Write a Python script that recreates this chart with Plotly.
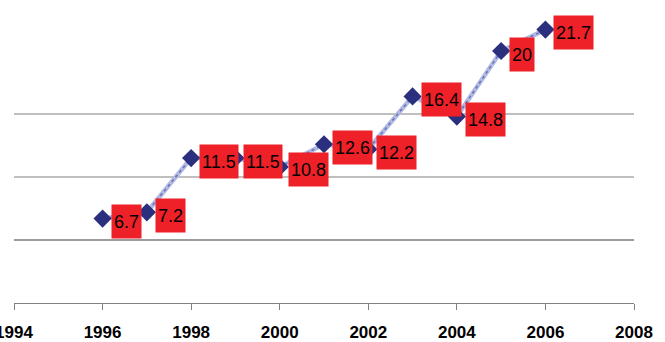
import plotly.graph_objects as go

years = [1996, 1997, 1998, 1999, 2000, 2001, 2002, 2003, 2004, 2005, 2006]
values = [6.7, 7.2, 11.5, 11.5, 10.8, 12.6, 12.2, 16.4, 14.8, 20, 21.7]
labels = ["6.7", "7.2", "11.5", "11.5", "10.8", "12.6", "12.2", "16.4", "14.8", "20", "21.7"]
x_ticks = [1994, 1996, 1998, 2000, 2002, 2004, 2006, 2008]
grid_levels = [5, 10, 15]

fig = go.Figure()

# soft textured connecting line: pale wide stroke with a dotted darker core
fig.add_trace(go.Scatter(x=years, y=values, mode="lines",
                         line=dict(color="#b3bae2", width=4.5),
                         hoverinfo="skip", showlegend=False))
fig.add_trace(go.Scatter(x=years, y=values, mode="lines",
                         line=dict(color="#6670bb", width=1.5, dash="dot"),
                         hoverinfo="skip", showlegend=False))
fig.add_trace(go.Scatter(x=years, y=values, mode="markers",
                         marker=dict(symbol="diamond", size=14, color="#2a2f7e"),
                         showlegend=False))

for g in grid_levels:
    fig.add_shape(type="line", xref="x", yref="y", x0=1994, x1=2008, y0=g, y1=g,
                  line=dict(color="#3a3a3a" if g == 5 else "#808080", width=1.2),
                  layer="below")

for x, y, t in zip(years, values, labels):
    fig.add_annotation(x=x, y=y, text=t, showarrow=False,
                       xanchor="left", yanchor="middle", xshift=8, yshift=-3,
                       bgcolor="#ee2028", borderpad=2, height=29,
                       font=dict(family="Liberation Sans, Arial, sans-serif", size=18, color="#000000"))

fig.update_xaxes(range=[1994, 2008], tickvals=x_ticks, ticktext=[str(v) for v in x_ticks],
                 showgrid=False, zeroline=False, showline=True, linecolor="#808080", linewidth=1.2,
                 ticks="outside", ticklen=6, tickcolor="#808080", tickwidth=1,
                 ticklabeloverflow="allow", automargin=False, ticklabelstandoff=7,
                 tickfont=dict(family="Liberation Sans, Arial, sans-serif",
                               size=17, color="#000000", weight="bold"))
fig.update_yaxes(range=[0, 24.05], showgrid=False, zeroline=False, showline=False,
                 showticklabels=False, ticks="", automargin=False)

fig.update_layout(width=665, height=342, margin=dict(l=14, r=31, t=0, b=39),
                  plot_bgcolor="white", paper_bgcolor="white")

fig.write_html("out.html")
